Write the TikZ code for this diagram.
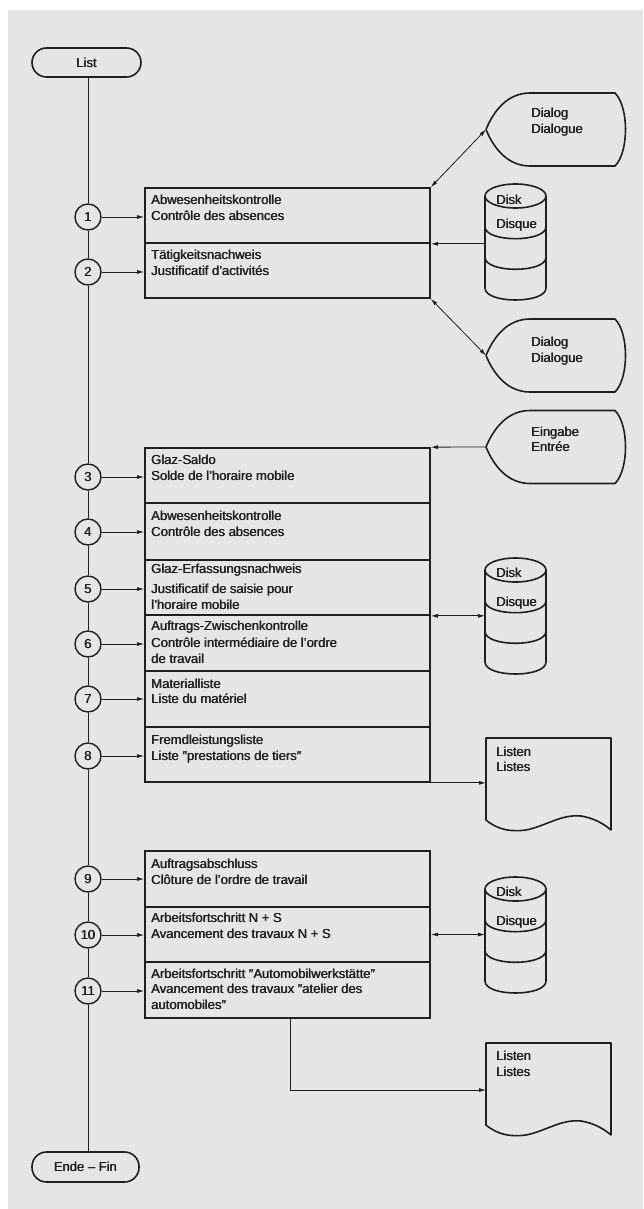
\documentclass[tikz,border=0pt]{standalone}
\usepackage{fontspec}
\setmainfont{Liberation Sans}
\usetikzlibrary{arrows.meta}
\definecolor{ink}{HTML}{1F1F1F}
\definecolor{paper}{HTML}{E5E5E5}

% a slightly heavier face: the text is set twice with a small offset
\newcommand\heavytext[1]{\leavevmode\rlap{#1}\kern0.5pt#1}

\tikzset{
  procbox/.style={rectangle, draw=ink, line width=1.7pt, minimum width=285pt, inner sep=0pt},
  numcirc/.style={circle, draw=ink, line width=1.4pt, minimum size=26pt, inner sep=0pt,
                  fill=paper, text=ink, font=\fontsize{13}{13}\selectfont},
  term/.style={rectangle, rounded corners=14.5pt, draw=ink, line width=1.6pt, minimum height=29pt,
               inner sep=0pt, text=ink, font=\fontsize{13}{13}\selectfont},
  shapeline/.style={draw=ink, line width=1.6pt, line join=round},
  vline/.style={draw=ink, line width=0.9pt},
  flow/.style={draw=ink, line width=0.8pt},
  arr/.style={flow, -{Latex[length=7pt,width=4pt]}},
  dbl/.style={flow, {Latex[length=7pt,width=4pt]}-{Latex[length=7pt,width=4pt]}},
  lbl/.style={anchor=base west, inner sep=0pt, text=ink, font=\fontsize{13}{16}\selectfont},
  % display symbol (Dialog / Eingabe), origin at the left tip's x and the top edge
  dialog/.pic={
    \draw[shapeline] (0,36.5) .. controls (8,17) and (22,0) .. (44,0) -- (129,0)
      .. controls (143,14) and (143,59) .. (129,73) -- (44,73)
      .. controls (22,73) and (8,56) .. (0,36.5) -- cycle;
    \coordinate (-tip) at (0,36.5);
  },
  % direct access storage, origin at the top-left
  disk/.pic={
    \draw[shapeline] (30.5,12) ellipse [x radius=30.5, y radius=12];
    \draw[shapeline] (0,12) -- (0,104) (61,12) -- (61,104);
    \draw[shapeline] (0,42.7) .. controls (0,58.7) and (61,58.7) .. (61,42.7);
    \draw[shapeline] (0,73.3) .. controls (0,89.3) and (61,89.3) .. (61,73.3);
    \draw[shapeline] (0,104) .. controls (0,120) and (61,120) .. (61,104);
    \coordinate (-w) at (0,0);
  },
  % printed document, origin at the top-left
  document/.pic={
    \draw[shapeline] (0,82) -- (0,0) -- (125,0) -- (125,92)
      .. controls (118,86) and (108,80) .. (95,78)
      .. controls (75,76) and (60,88) .. (40,92)
      .. controls (25,94) and (12,92) .. (0,82) -- cycle;
    \coordinate (-w) at (0,0);
  }
}

\begin{document}
\begin{tikzpicture}[x=1pt, y=-1pt]
  \useasboundingbox (0,0) rectangle (643,1209);
  \fill[white] (0,0) rectangle (643,1209);
  \fill[paper] (8,10) rectangle (643,1209);

  % start and end
  \node[term, minimum width=109pt] (start) at (86.5,62.5) {\heavytext{List}};
  \node[term, minimum width=107pt, minimum height=30pt] (stop) at (85.5,1167) {\heavytext{Ende -- Fin}};

  % processing boxes
  \node[procbox, minimum height=55pt] (b1)  at (287.5,215.5) {};
  \node[procbox, minimum height=55pt] (b2)  at (287.5,270.5) {};
  \node[procbox, minimum height=55pt] (b3)  at (287.5,475.5) {};
  \node[procbox, minimum height=57pt] (b4)  at (287.5,531.5) {};
  \node[procbox, minimum height=55pt] (b5)  at (287.5,587.5) {};
  \node[procbox, minimum height=56pt] (b6)  at (287.5,643) {};
  \node[procbox, minimum height=56pt] (b7)  at (287.5,699) {};
  \node[procbox, minimum height=55pt] (b8)  at (287.5,754.5) {};
  \node[procbox, minimum height=56pt] (b9)  at (287.5,879) {};
  \node[procbox, minimum height=55pt] (b10) at (287.5,934.5) {};
  \node[procbox, minimum height=56pt] (b11) at (287.5,990) {};

  % box texts
  \node[lbl] (t1a) at (151,204.5) {\heavytext{Abwesenheitskontrolle}};
  \node[lbl] (t1b) at (151,220.5) {\heavytext{Contrôle des absences}};
  \node[lbl] (t2a) at (151,259.5) {\heavytext{Tätigkeitsnachweis}};
  \node[lbl] (t2b) at (151,275) {\heavytext{Justificatif d’activités}};
  \node[lbl] (t3a) at (151,464.5) {\heavytext{Glaz-Saldo}};
  \node[lbl] (t3b) at (151,480.5) {\heavytext{Solde de l’horaire mobile}};
  \node[lbl] (t4a) at (151,520) {\heavytext{Abwesenheitskontrolle}};
  \node[lbl] (t4b) at (151,536) {\heavytext{Contrôle des absences}};
  \node[lbl] (t5a) at (151,573.5) {\heavytext{Glaz-Erfassungsnachweis}};
  \node[lbl] (t5b) at (151,593.5) {\heavytext{Justificatif de saisie pour}};
  \node[lbl] (t5c) at (151,609.5) {\heavytext{l’horaire mobile}};
  \node[lbl] (t6a) at (151,630.5) {\heavytext{Auftrags-Zwischenkontrolle}};
  \node[lbl] (t6b) at (151,647.5) {\heavytext{Contrôle intermédiaire de l’ordre}};
  \node[lbl] (t6c) at (151,663.5) {\heavytext{de travail}};
  \node[lbl] (t7a) at (151,688) {\heavytext{Materialliste}};
  \node[lbl] (t7b) at (151,703.5) {\heavytext{Liste du matériel}};
  \node[lbl] (t8a) at (151,744.5) {\heavytext{Fremdleistungsliste}};
  \node[lbl] (t8b) at (151,760) {\heavytext{Liste ″prestations de tiers″}};
  \node[lbl] (t9a) at (151,868.5) {\heavytext{Auftragsabschluss}};
  \node[lbl] (t9b) at (151,884.5) {\heavytext{Clôture de l’ordre de travail}};
  \node[lbl] (t10a) at (151,922.5) {\heavytext{Arbeitsfortschritt N + S}};
  \node[lbl] (t10b) at (151,938.5) {\heavytext{Avancement des travaux N + S}};
  \node[lbl] (t11a) at (151,978) {\heavytext{Arbeitsfortschritt ″Automobilwerkstätte″}};
  \node[lbl] (t11b) at (151,993.5) {\heavytext{Avancement des travaux ″atelier des}};
  \node[lbl] (t11c) at (151,1009.5) {\heavytext{automobiles″}};

  % numbered steps
  \foreach \n/\y in {1/217, 2/272, 3/477, 4/532, 5/589, 6/644, 7/699, 8/756, 9/879, 10/935, 11/991}
    \node[numcirc] (c\n) at (88,\y) {\heavytext{\n}};

  % main line
  \draw[vline] (start.south -| c1) -- (c1.north);
  \foreach \a/\b in {1/2, 2/3, 3/4, 4/5, 5/6, 6/7, 7/8, 8/9, 9/10, 10/11}
    \draw[vline] (c\a.south) -- (c\b.north);
  \draw[vline] (c11.south) -- (stop.north -| c11);

  % step arrows into the boxes
  \foreach \n/\b in {1/b1, 2/b2, 3/b3, 4/b4, 5/b5, 6/b6, 7/b7, 8/b8, 9/b9, 10/b10, 11/b11}
    \draw[arr] (c\n.east) -- (c\n.east -| \b.west);

  % peripheral symbols
  \pic (d1) at (486,93) {dialog};
  \pic (d2) at (486,319) {dialog};
  \pic (e1) at (486,410.5) {dialog};
  \pic (k1) at (485,184) {disk};
  \pic (k2) at (485,558) {disk};
  \pic (k3) at (485,877) {disk};
  \pic (L1) at (486,738) {document};
  \pic (L2) at (486,1043) {document};

  % peripheral texts
  \node[lbl] (d1a) at (531,117.5) {\heavytext{Dialog}};
  \node[lbl] (d1b) at (531,133.5) {\heavytext{Dialogue}};
  \node[lbl] (d2a) at (531,346.5) {\heavytext{Dialog}};
  \node[lbl] (d2b) at (531,362.5) {\heavytext{Dialogue}};
  \node[lbl] (e1a) at (531,436.5) {\heavytext{Eingabe}};
  \node[lbl] (e1b) at (531,451.5) {\heavytext{Entrée}};
  \node[lbl] (k1a) at (496,204.5) {\heavytext{Disk}};
  \node[lbl] (k1b) at (496,228.5) {\heavytext{Disque}};
  \node[lbl] (k2a) at (496,577.5) {\heavytext{Disk}};
  \node[lbl] (k2b) at (496,606.5) {\heavytext{Disque}};
  \node[lbl] (k3a) at (496,896.5) {\heavytext{Disk}};
  \node[lbl] (k3b) at (496,925.5) {\heavytext{Disque}};
  \node[lbl] (L1a) at (496,756.5) {\heavytext{Listen}};
  \node[lbl] (L1b) at (496,771.5) {\heavytext{Listes}};
  \node[lbl] (L2a) at (496,1060.5) {\heavytext{Listen}};
  \node[lbl] (L2b) at (496,1076.5) {\heavytext{Listes}};

  % data connectors
  \draw[dbl] (b1.north east) -- (d1-tip);
  \draw[arr] (b1.south east -| k1-w) -- (b1.south east);
  \draw[dbl] (b2.south east) -- (d2-tip);
  \draw[arr] (e1-tip) -- (b3.north east);
  \draw[dbl] (b5.south east) -- (b5.south east -| k2-w);
  \draw[arr] (b8.south east) -- (b8.south east -| L1-w);
  \draw[dbl] (b10.east) -- (b10.east -| k3-w);
  \coordinate (L2in) at ([yshift=-47pt]L2-w);
  \draw[arr] (b11.south -| 290,0) |- (L2in);
\end{tikzpicture}
\end{document}
